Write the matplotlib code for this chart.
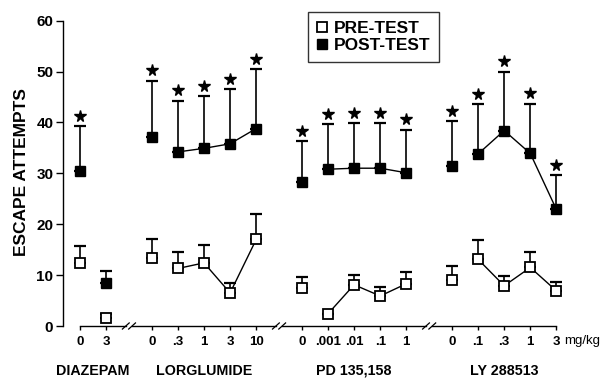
import matplotlib
matplotlib.use("Agg")
import matplotlib.pyplot as plt
import numpy as np
from matplotlib.lines import Line2D

plt.rcParams['font.family'] = ['Liberation Sans', 'DejaVu Sans']
plt.rcParams['font.weight'] = 'bold'

# ---- data ----
groups = ["DIAZEPAM", "LORGLUMIDE", "PD 135,158", "LY 288513"]
doses = [["0", "3"],
         ["0", ".3", "1", "3", "10"],
         ["0", ".001", ".01", ".1", "1"],
         ["0", ".1", ".3", "1", "3"]]

pre_mean = [[12.4, 1.5],
            [13.3, 11.3, 12.4, 6.5, 17.0],
            [7.5, 2.4, 8.1, 5.9, 8.3],
            [9.0, 13.1, 7.9, 11.5, 6.9]]
pre_err = [[3.3, 0.9],
           [3.7, 3.3, 3.5, 1.9, 5.0],
           [2.1, 0.0, 1.9, 1.7, 2.4],
           [2.7, 3.7, 2.0, 3.1, 1.8]]
post_mean = [[30.5, 8.4],
             [37.2, 34.2, 34.9, 35.8, 38.8],
             [28.3, 30.8, 31.0, 31.0, 30.1],
             [31.4, 33.8, 38.4, 33.9, 22.9]]
post_err = [[8.8, 2.5],
            [11.0, 10.1, 10.3, 10.7, 11.7],
            [8.0, 8.8, 8.8, 8.8, 8.5],
            [8.9, 9.8, 11.6, 9.8, 6.8]]
post_sig = [[1, 0],
            [1, 1, 1, 1, 1],
            [1, 1, 1, 1, 1],
            [1, 1, 1, 1, 1]]

GAP = 1.75

fig = plt.figure(figsize=(6.12, 3.84), dpi=100)
ax = fig.add_axes([63/612, 58/384, 537/612, (326-20.6)/384])

# positions
positions = []
start = 0.0
for d in doses:
    p = start + np.arange(len(d))
    positions.append(p)
    start = p[-1] + GAP

all_pos = np.concatenate(positions)
all_labels = sum(doses, [])

for p, pm, pe, qm, qe, sg in zip(positions, pre_mean, pre_err, post_mean, post_err, post_sig):
    pm = np.array(pm); pe = np.array(pe); qm = np.array(qm); qe = np.array(qe); sg = np.array(sg, bool)
    ax.errorbar(p, pm, yerr=[np.zeros_like(pe), pe], fmt='none', ecolor='k',
                elinewidth=1.2, capsize=4, capthick=1.6, zorder=2)
    ax.errorbar(p, qm, yerr=[np.zeros_like(qe), qe], fmt='none', ecolor='k',
                elinewidth=1.2, capsize=4, capthick=1.6, zorder=2)
    if len(p) > 2:
        ax.plot(p[1:], pm[1:], '-', color='k', lw=1.0, zorder=3)
        ax.plot(p[1:], qm[1:], '-', color='k', lw=1.0, zorder=3)
    ax.plot(p, pm, 's', ms=7.2, mfc='white', mec='k', mew=1.3, ls='none', zorder=4)
    ax.plot(p, qm, 's', ms=7.2, mfc='k', mec='k', mew=1.0, ls='none', zorder=4)
    ax.plot(p[sg], (qm + qe)[sg] + 2.0, '*', ms=8.5, color='k', ls='none', zorder=4,
            clip_on=False)

# axes styling
ax.set_ylim(0, 60)
ax.set_xlim(-0.651, 19.92)
for s in ['top', 'right', 'bottom']:
    ax.spines[s].set_visible(False)
ax.spines['left'].set_linewidth(1.0)
ax.set_yticks(range(0, 61, 10))
ax.tick_params(axis='y', length=5, width=1.0, pad=2, labelsize=11)
ax.set_xticks(all_pos)
ax.set_xticklabels(all_labels)
ax.tick_params(axis='x', length=3, width=1.0, pad=4, labelsize=9.5)
for lab in ax.get_xticklabels() + ax.get_yticklabels():
    lab.set_fontweight('bold')

# broken baseline
for i, p in enumerate(positions):
    left = p[0] if i == 0 else (positions[i-1][-1] + p[0]) / 2 + 0.12
    right = p[-1] if i == len(positions) - 1 else (p[-1] + positions[i+1][0]) / 2 - 0.12
    ax.plot([left, right], [0, 0], color='k', lw=1.0, clip_on=False, zorder=1)
    if i < len(positions) - 1:
        b = (p[-1] + positions[i+1][0]) / 2
        for dx in (-0.12, 0.12):
            ax.plot([b + dx - 0.13, b + dx + 0.13], [-0.6, 0.6], color='k', lw=0.9,
                    clip_on=False, zorder=1)

# group labels
for p, g in zip(positions, groups):
    ax.text((p[0] + p[-1]) / 2, -8.8, g, ha='center', va='center',
            fontsize=10.3, fontweight='bold')
ax.text(positions[-1][-1] + 0.3, -2.9, "mg/kg", ha='left', va='center',
        fontsize=9.5, fontweight='normal')

fig.text(22/612, (384-172)/384, "ESCAPE ATTEMPTS", rotation=90, ha='center',
         va='center', fontsize=12.5, fontweight='bold')

# legend
h1 = Line2D([], [], marker='s', ms=7.2, mfc='white', mec='k', mew=1.3, ls='none')
h2 = Line2D([], [], marker='s', ms=7.2, mfc='k', mec='k', ls='none')
leg = fig.legend([h1, h2], ["PRE-TEST", "POST-TEST"], loc='upper left',
                 bbox_to_anchor=(308/612, (384-12)/384), borderaxespad=0,
                 prop={'weight': 'bold', 'size': 12.5}, frameon=True, fancybox=False,
                 handlelength=0.6, handletextpad=0.4, labelspacing=0.12,
                 borderpad=0.5)
leg.get_frame().set_edgecolor('k')
leg.get_frame().set_linewidth(1.0)

fig.savefig("out.png", dpi=100)
